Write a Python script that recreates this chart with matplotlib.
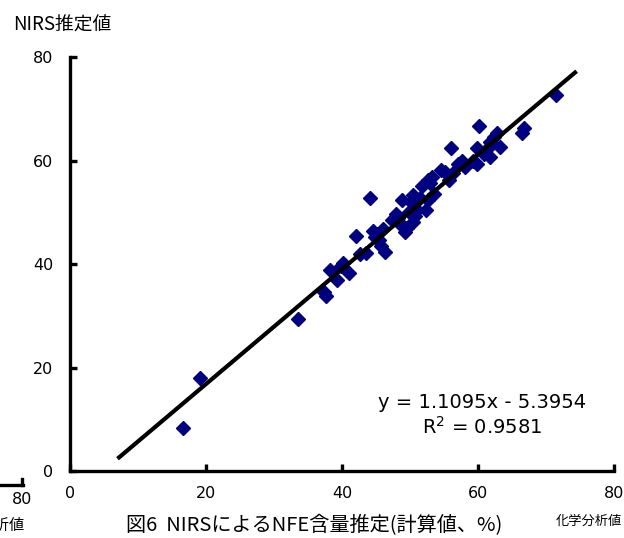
import matplotlib
matplotlib.use("Agg")
import matplotlib.pyplot as plt
from matplotlib.lines import Line2D
import numpy as np

plt.rcParams['font.family'] = ['Noto Sans CJK JP', 'DejaVu Sans']

# Chemical analysis (x) vs NIRS estimate (y)
chem = [16.6, 19.2, 33.6, 37.3, 37.7, 38.3, 39.2, 39.8, 40.2, 41.1,
        42.0, 42.6, 43.6, 44.1, 44.5, 45.1, 45.4, 45.8, 46.1, 46.3,
        47.4, 47.9, 48.3, 48.6, 48.9, 49.2, 49.5, 49.8, 50.1, 50.4,
        50.5, 51.1, 51.5, 51.8, 52.3, 52.7, 52.7, 53.3, 53.6, 54.5,
        55.2, 55.7, 56.1, 56.4, 57.1, 57.7, 58.1, 59.2, 59.8, 59.9,
        60.1, 60.9, 61.4, 61.8, 62.3, 62.8, 63.3, 61.8, 66.4, 66.8,
        71.4, 44.9, 49.0, 50.8, 53.0]
nirs = [8.3, 18.0, 29.3, 34.6, 33.8, 38.8, 36.9, 39.6, 40.2, 38.2,
        45.4, 41.9, 42.1, 52.7, 46.3, 45.8, 44.6, 43.4, 46.7, 42.3,
        48.5, 49.6, 48.9, 47.7, 52.3, 46.1, 46.9, 50.0, 51.9, 48.1,
        53.3, 50.4, 52.7, 55.0, 50.4, 52.3, 56.2, 56.9, 53.5, 58.1,
        57.7, 56.2, 62.5, 57.5, 59.3, 60.0, 58.7, 60.0, 62.5, 59.3,
        66.6, 61.2, 62.4, 63.5, 64.5, 65.4, 62.7, 60.6, 65.4, 66.2,
        72.6, 45.2, 47.3, 49.2, 55.6]

slope, intercept = 1.1095, -5.3954
line_x = [7.0, 74.5]

xticks = [0, 20, 40, 60, 80]
yticks = [0, 20, 40, 60, 80]

fig = plt.figure(figsize=(6.24, 5.38), dpi=100)
ax = fig.add_axes([0.112, 0.1245, 0.872, 0.7695])

ax.plot(chem, nirs, linestyle='none', marker='D', markersize=7,
        color='#000080', markeredgecolor='#000080', zorder=3)
lx = np.array(line_x)
ax.plot(lx, slope * lx + intercept, color='black', linewidth=3.0, zorder=4,
        solid_capstyle='butt')

ax.set_xlim(0, 80)
ax.set_ylim(0, 80)
ax.set_xticks(xticks)
ax.set_yticks(yticks)
for s in ['top', 'right']:
    ax.spines[s].set_visible(False)
for s in ['left', 'bottom']:
    ax.spines[s].set_linewidth(2.4)
ax.tick_params(direction='in', length=5, width=2.4, labelsize=11.5, pad=12)
ax.tick_params(axis='x', pad=11)
for lab in ax.get_xticklabels() + ax.get_yticklabels():
    lab.set_family('DejaVu Sans')

fig.text(482 / 624, 1 - 402 / 538, 'y = 1.1095x - 5.3954',
         ha='center', va='center', fontsize=14, family='DejaVu Sans')
fig.text(482 / 624, 1 - 427 / 538, r'R$^2$ = 0.9581',
         ha='center', va='center', fontsize=14, family='DejaVu Sans')

fig.text(13 / 624, 1 - 25 / 538, 'NIRS推定値', ha='left', va='center', fontsize=13.5)
fig.text(622 / 624, 1 - 521 / 538, '化学分析値', ha='right', va='center', fontsize=9.5)
fig.text(314 / 624, 1 - 526 / 538, '図6  NIRSによるNFE含量推定(計算値、%)',
         ha='center', va='center', fontsize=14.5)

# fragment of neighbouring chart at the left edge
fig.text(32 / 624, 1 - 499 / 538, '80', ha='right', va='center', fontsize=11.5,
         family='DejaVu Sans')
fig.text(25 / 624, 1 - 525 / 538, '化学分析値', ha='right', va='center', fontsize=11)
fig.add_artist(Line2D([0, 23 / 624], [1 - 485 / 538, 1 - 485 / 538],
                      transform=fig.transFigure, color='black', linewidth=2.4))
fig.add_artist(Line2D([22 / 624, 22 / 624], [1 - 485 / 538, 1 - 479 / 538],
                      transform=fig.transFigure, color='black', linewidth=2.4))

fig.savefig('out.png', dpi=100)
